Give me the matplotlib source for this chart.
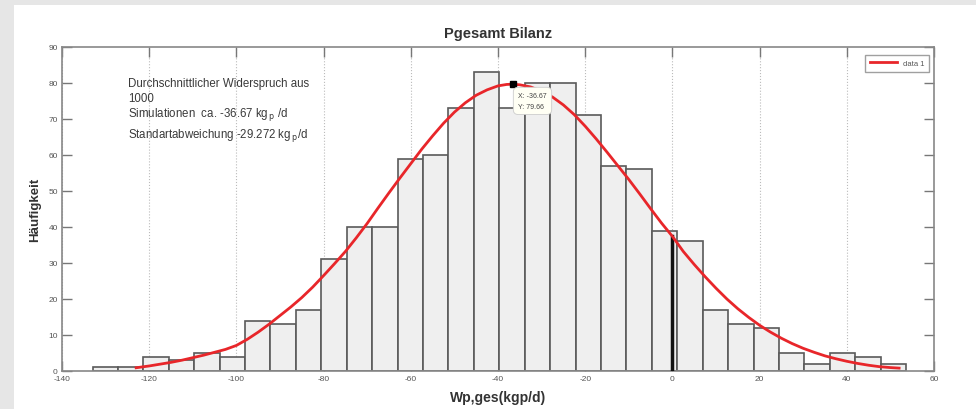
import numpy as np
import matplotlib.pyplot as plt
from matplotlib.patches import Rectangle

plt.rcParams['font.family'] = ['Liberation Sans', 'DejaVu Sans']
plt.rcParams['axes.unicode_minus'] = False

# histogram: 32 bins between the min and max of the 1000 simulations
bin_min = -133.0
bin_max = 53.6
counts = [1, 1, 4, 3, 5, 4, 14, 13, 17, 31, 40, 40, 59, 60, 73, 83,
          73, 80, 80, 71, 57, 56, 39, 36, 17, 13, 12, 5, 2, 5, 4, 2]

# fitted curve
fit_x = [-123, -120, -117.5, -115, -112.5, -110, -107.5, -105, -102.5, -100,
         -97.5, -95, -92.5, -90, -87.5, -85, -82.5, -80, -77.5, -75,
         -72.5, -70, -67.5, -65, -62.5, -60, -57.5, -55, -52.5, -50,
         -47.5, -45, -42.5, -40, -38, -36.67, -35, -32.5, -30, -27.5,
         -25, -22.5, -20, -17.5, -15, -12.5, -10, -7.5, -5, -2.5,
         0, 2.5, 5, 7.5, 10, 12.5, 15, 17.5, 20, 22.5,
         25, 27.5, 30, 32.5, 35, 37.5, 40, 42.5, 45, 47.5, 50, 52]
fit_y = [0.9, 1.4, 1.9, 2.4, 3.0, 3.7, 4.4, 5.2, 6.0, 7.1,
         8.8, 10.8, 13.0, 15.4, 17.8, 20.4, 23.3, 26.5, 29.8, 33.2,
         37.0, 41.0, 45.3, 49.5, 53.6, 57.6, 61.6, 65.3, 68.8, 71.9,
         74.5, 76.6, 78.1, 79.2, 79.6, 79.66, 79.5, 78.9, 77.7, 76.1,
         73.9, 71.2, 68.0, 64.5, 60.8, 57.0, 53.2, 49.2, 45.1, 41.1,
         37.4, 33.2, 29.6, 26.2, 23.0, 20.0, 17.3, 14.9, 12.7, 10.8,
         9.1, 7.6, 6.3, 5.2, 4.2, 3.4, 2.7, 2.1, 1.6, 1.2, 0.95, 0.8]

tip_x = -36.67
tip_y = 79.66
zero_x = 0
zero_top = 37.5

note_lines = ['Durchschnittlicher Widerspruch aus',
              '1000',
              'Simulationen  ca. -36.67 kg$_{\\,\\mathrm{p}}$ /d',
              'Standartabweichung -29.272 kg$_{\\,\\mathrm{p}}$/d']

xticks = np.arange(-140, 61, 20)
yticks = np.arange(0, 91, 10)

fig = plt.figure(figsize=(9.76, 4.10), dpi=100)
fig.patch.set_facecolor('white')
# grey frame strips (left / top)
fig.patches.append(Rectangle((0, 0), 14/976, 1, transform=fig.transFigure,
                             facecolor='#e6e6e6', edgecolor='none', zorder=0))
fig.patches.append(Rectangle((0, 1-6/410), 1, 6/410, transform=fig.transFigure,
                             facecolor='#e6e6e6', edgecolor='none', zorder=0))

ax = fig.add_axes([62/976, 38/410, 872/976, 324/410])

edges = np.linspace(bin_min, bin_max, len(counts) + 1)
ax.bar(edges[:-1], counts, width=np.diff(edges), align='edge',
       color='#efefef', edgecolor='#5a5a5a', linewidth=1.2, zorder=2)

ax.plot([zero_x, zero_x], [0, zero_top], color='#111111', lw=2.5, zorder=3)

ax.plot(fit_x, fit_y, color='#e8262a', lw=2.0, label='data 1', zorder=4,
        solid_joinstyle='round')

# data tip
ax.plot(tip_x, tip_y, 's', color='black', ms=4, zorder=6)
ax.text(tip_x + 1.3, tip_y - 2.2, 'X: %.2f\nY: %.2f' % (tip_x, tip_y),
        fontsize=5, color='#444444', va='top', ha='left', zorder=7,
        linespacing=1.7,
        bbox=dict(boxstyle='round,pad=0.7', facecolor='#fffff4',
                  edgecolor='#cccccc', lw=0.6))

# annotation text
note_y = [80.0, 75.8, 71.4, 65.8]
for s, yy in zip(note_lines, note_y):
    ax.text(-124.9, yy, s, fontsize=8.3, color='#3a3a3a', va='center', ha='left',
            zorder=5)

ax.set_xlim(-140, 60)
ax.set_ylim(0, 90)
ax.set_xticks(xticks)
ax.set_yticks(yticks)
ax.tick_params(direction='in', length=7, width=1, colors='#777777',
               labelsize=6, labelcolor='#555555', top=True, right=True,
               pad=3)
for sp in ax.spines.values():
    sp.set_color('#888888')
    sp.set_linewidth(1.2)
ax.xaxis.grid(True, linestyle=':', color='#bbbbbb', lw=0.8)
ax.set_axisbelow(True)

ax.set_title('Pgesamt Bilanz', fontsize=10.5, fontweight='bold',
             color='#333333', pad=7)
ax.set_xlabel('Wp,ges(kgp/d)', fontsize=10, fontweight='bold',
              color='#333333', labelpad=6)
ax.set_ylabel('Häufigkeit', fontsize=9.5, fontweight='bold',
              color='#333333', labelpad=5)

leg = ax.legend(loc='upper right', fontsize=5.5, handlelength=3.5,
                borderpad=0.6, frameon=True, fancybox=False,
                bbox_to_anchor=(0.9985, 0.987))
leg.get_frame().set_edgecolor('#888888')
leg.get_frame().set_linewidth(1.0)
for t in leg.get_texts():
    t.set_color('#555555')

fig.savefig('out.png', dpi=100)
